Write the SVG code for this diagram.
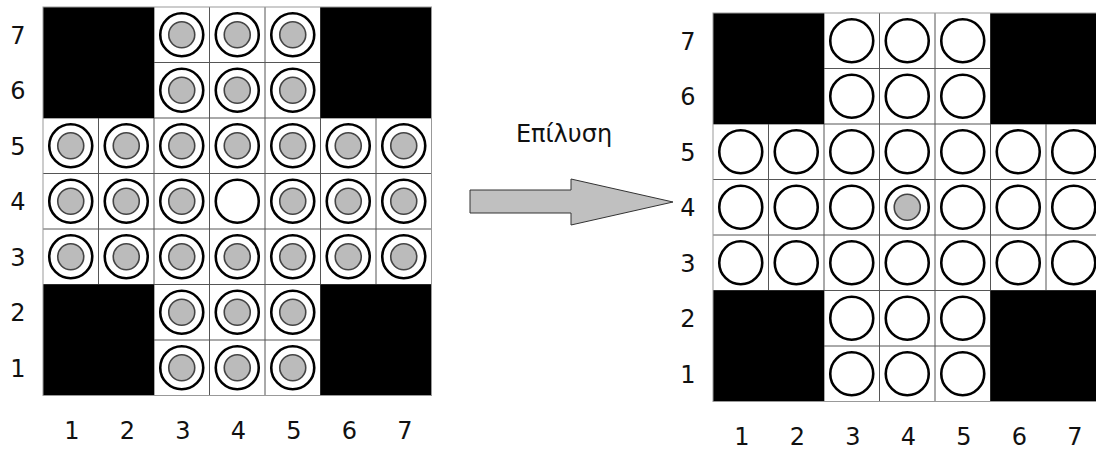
<svg xmlns="http://www.w3.org/2000/svg" xmlns:xlink="http://www.w3.org/1999/xlink" width="1096" height="450" viewBox="0 0 1096 450">
<style>
.bg{fill:#fff}
.grid{stroke:#555;stroke-width:1;fill:none}
.blk{fill:#000}
.border{fill:none;stroke:#999;stroke-width:1}
.ring{fill:#fff;stroke:#000;stroke-width:2.6}
.ball{fill:#bbb;stroke:#444;stroke-width:1.6}
.lbl{font-family:"DejaVu Sans",sans-serif;font-size:24px;fill:#111;text-anchor:middle}
.arrow{fill:#c0c0c0;stroke:#333;stroke-width:1}
</style>
<defs>
<g id="peg"><circle class="ring" r="21.5"/><circle class="ball" r="13"/></g>
<g id="hole"><circle class="ring" r="21.5"/></g>
</defs>

<g id="board-left">
<rect class="bg" x="43" y="7" width="388.5" height="388.5"/>
<path class="grid" d="M98.5 7V395.5M154 7V395.5M209.5 7V395.5M265 7V395.5M320.5 7V395.5M376 7V395.5M43 62.5H431.5M43 118H431.5M43 173.5H431.5M43 229H431.5M43 284.5H431.5M43 340H431.5"/>
<rect class="blk" x="43" y="7" width="111" height="111"/>
<rect class="blk" x="320.5" y="7" width="111" height="111"/>
<rect class="blk" x="43" y="284.5" width="111" height="111"/>
<rect class="blk" x="320.5" y="284.5" width="111" height="111"/>
<rect class="border" x="43" y="7" width="388.5" height="388.5"/>
<g id="left-pegs">
<use href="#peg" x="181.75" y="34.75"/><use href="#peg" x="237.25" y="34.75"/><use href="#peg" x="292.75" y="34.75"/>
<use href="#peg" x="181.75" y="90.25"/><use href="#peg" x="237.25" y="90.25"/><use href="#peg" x="292.75" y="90.25"/>
<use href="#peg" x="70.75" y="145.75"/><use href="#peg" x="126.25" y="145.75"/><use href="#peg" x="181.75" y="145.75"/><use href="#peg" x="237.25" y="145.75"/><use href="#peg" x="292.75" y="145.75"/><use href="#peg" x="348.25" y="145.75"/><use href="#peg" x="403.75" y="145.75"/>
<use href="#peg" x="70.75" y="201.25"/><use href="#peg" x="126.25" y="201.25"/><use href="#peg" x="181.75" y="201.25"/><use href="#hole" x="237.25" y="201.25"/><use href="#peg" x="292.75" y="201.25"/><use href="#peg" x="348.25" y="201.25"/><use href="#peg" x="403.75" y="201.25"/>
<use href="#peg" x="70.75" y="256.75"/><use href="#peg" x="126.25" y="256.75"/><use href="#peg" x="181.75" y="256.75"/><use href="#peg" x="237.25" y="256.75"/><use href="#peg" x="292.75" y="256.75"/><use href="#peg" x="348.25" y="256.75"/><use href="#peg" x="403.75" y="256.75"/>
<use href="#peg" x="181.75" y="312.25"/><use href="#peg" x="237.25" y="312.25"/><use href="#peg" x="292.75" y="312.25"/>
<use href="#peg" x="181.75" y="367.75"/><use href="#peg" x="237.25" y="367.75"/><use href="#peg" x="292.75" y="367.75"/>
</g>
</g>

<g id="labels-left">
<text class="lbl" x="18" y="43.5">7</text>
<text class="lbl" x="18" y="99">6</text>
<text class="lbl" x="18" y="154.5">5</text>
<text class="lbl" x="18" y="210">4</text>
<text class="lbl" x="18" y="265.5">3</text>
<text class="lbl" x="18" y="321">2</text>
<text class="lbl" x="18" y="376.5">1</text>
<text class="lbl" x="72" y="439">1</text>
<text class="lbl" x="127.5" y="439">2</text>
<text class="lbl" x="183" y="439">3</text>
<text class="lbl" x="238.5" y="439">4</text>
<text class="lbl" x="294" y="439">5</text>
<text class="lbl" x="349.5" y="439">6</text>
<text class="lbl" x="405" y="439">7</text>
</g>

<g id="connector">
<polygon class="arrow" points="470,190 571,190 571,179 673,202 571,225 571,213 470,213"/>
</g>
<g id="arrow-label">
<text class="lbl" x="564" y="142">Επίλυση</text>
</g>

<g id="board-right">
<rect class="bg" x="713" y="13" width="388.5" height="388.5"/>
<path class="grid" d="M768.5 13V401.5M824 13V401.5M879.5 13V401.5M935 13V401.5M990.5 13V401.5M1046 13V401.5M713 68.5H1101.5M713 124H1101.5M713 179.5H1101.5M713 235H1101.5M713 290.5H1101.5M713 346H1101.5"/>
<rect class="blk" x="713" y="13" width="111" height="111"/>
<rect class="blk" x="990.5" y="13" width="111" height="111"/>
<rect class="blk" x="713" y="290.5" width="111" height="111"/>
<rect class="blk" x="990.5" y="290.5" width="111" height="111"/>
<rect class="border" x="713" y="13" width="388.5" height="388.5"/>
<g id="right-pegs">
<use href="#hole" x="851.75" y="40.75"/><use href="#hole" x="907.25" y="40.75"/><use href="#hole" x="962.75" y="40.75"/>
<use href="#hole" x="851.75" y="96.25"/><use href="#hole" x="907.25" y="96.25"/><use href="#hole" x="962.75" y="96.25"/>
<use href="#hole" x="740.75" y="151.75"/><use href="#hole" x="796.25" y="151.75"/><use href="#hole" x="851.75" y="151.75"/><use href="#hole" x="907.25" y="151.75"/><use href="#hole" x="962.75" y="151.75"/><use href="#hole" x="1018.25" y="151.75"/><use href="#hole" x="1073.75" y="151.75"/>
<use href="#hole" x="740.75" y="207.25"/><use href="#hole" x="796.25" y="207.25"/><use href="#hole" x="851.75" y="207.25"/><use href="#peg" x="907.25" y="207.25"/><use href="#hole" x="962.75" y="207.25"/><use href="#hole" x="1018.25" y="207.25"/><use href="#hole" x="1073.75" y="207.25"/>
<use href="#hole" x="740.75" y="262.75"/><use href="#hole" x="796.25" y="262.75"/><use href="#hole" x="851.75" y="262.75"/><use href="#hole" x="907.25" y="262.75"/><use href="#hole" x="962.75" y="262.75"/><use href="#hole" x="1018.25" y="262.75"/><use href="#hole" x="1073.75" y="262.75"/>
<use href="#hole" x="851.75" y="318.25"/><use href="#hole" x="907.25" y="318.25"/><use href="#hole" x="962.75" y="318.25"/>
<use href="#hole" x="851.75" y="373.75"/><use href="#hole" x="907.25" y="373.75"/><use href="#hole" x="962.75" y="373.75"/>
</g>
</g>

<g id="labels-right">
<text class="lbl" x="688" y="49.5">7</text>
<text class="lbl" x="688" y="105">6</text>
<text class="lbl" x="688" y="160.5">5</text>
<text class="lbl" x="688" y="216">4</text>
<text class="lbl" x="688" y="271.5">3</text>
<text class="lbl" x="688" y="327">2</text>
<text class="lbl" x="688" y="382.5">1</text>
<text class="lbl" x="742" y="445">1</text>
<text class="lbl" x="797.5" y="445">2</text>
<text class="lbl" x="853" y="445">3</text>
<text class="lbl" x="908.5" y="445">4</text>
<text class="lbl" x="964" y="445">5</text>
<text class="lbl" x="1019.5" y="445">6</text>
<text class="lbl" x="1075" y="445">7</text>
</g>
</svg>
